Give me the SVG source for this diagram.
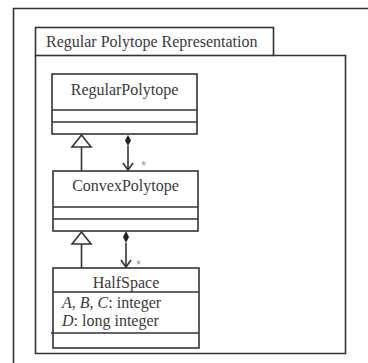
<svg xmlns="http://www.w3.org/2000/svg" width="368" height="363" viewBox="0 0 368 363">
<style>
.ln{fill:none;stroke:#333;stroke-width:1.6}
.bx{fill:#fff;stroke:#333;stroke-width:1.6}
.t{font-family:"Liberation Serif","Times New Roman",serif;font-size:16px;fill:#3a3a3a}
.c{text-anchor:middle}
.st{font-family:"Liberation Sans",Arial,sans-serif;font-size:13px;fill:#999}
</style>
<defs>
<marker id="open" markerWidth="12" markerHeight="12" refX="10" refY="6" orient="auto" markerUnits="userSpaceOnUse" viewBox="0 0 12 12">
<path d="M3,1 L10,6 L3,11" fill="none" stroke="#333" stroke-width="1.6"/>
</marker>
</defs>
<rect width="368" height="363" fill="#fff"/>
<g id="frame">
<path class="ln" d="M13.5,363 V8.5 H368" stroke="#555"/>
</g>
<g id="package">
<rect class="bx" x="35.5" y="27.5" width="238" height="28"/>
<path class="ln" d="M35.5,55.5 V353.5 H345.5 V55.5 H273.5"/>
<text class="t" x="46" y="47">Regular Polytope Representation</text>
</g>
<g id="RegularPolytope">
<rect class="bx" x="52" y="74" width="145" height="60"/>
<path class="ln" d="M52,110 H197 M52,122 H197"/>
<text class="t c" x="124.5" y="95">RegularPolytope</text>
</g>
<g id="ConvexPolytope">
<rect class="bx" x="53" y="171" width="145" height="60"/>
<path class="ln" d="M53,207 H198 M53,219 H198"/>
<text class="t c" x="125.5" y="191">ConvexPolytope</text>
</g>
<g id="HalfSpace">
<rect class="bx" x="53" y="268" width="146" height="80"/>
<path class="ln" d="M53,292 H199 M51,333 H199"/>
<text class="t c" x="126" y="288">HalfSpace</text>
<text class="t" x="62" y="308"><tspan font-style="italic">A</tspan>, <tspan font-style="italic">B</tspan>, <tspan font-style="italic">C</tspan>: integer</text>
<text class="t" x="62" y="326"><tspan font-style="italic">D</tspan>: long integer</text>
</g>
<g id="connectors">
<path class="ln" d="M81.5,147 V171"/>
<path d="M81.5,135 L91,147 H72 Z" fill="#fff" stroke="#333" stroke-width="1.6"/>
<path d="M128,135 L131,140.5 L128,146 L125,140.5 Z" fill="#222"/>
<path class="ln" d="M128,146 V170" marker-end="url(#open)"/>
<text class="st" x="141" y="170">*</text>
<path class="ln" d="M81.5,244 V268"/>
<path d="M81.5,232 L91,244 H72 Z" fill="#fff" stroke="#333" stroke-width="1.6"/>
<path d="M126,231 L129,237 L126,243 L123,237 Z" fill="#222"/>
<path class="ln" d="M126,243 V267" marker-end="url(#open)"/>
<text class="st" x="136" y="269">*</text>
</g>
</svg>
